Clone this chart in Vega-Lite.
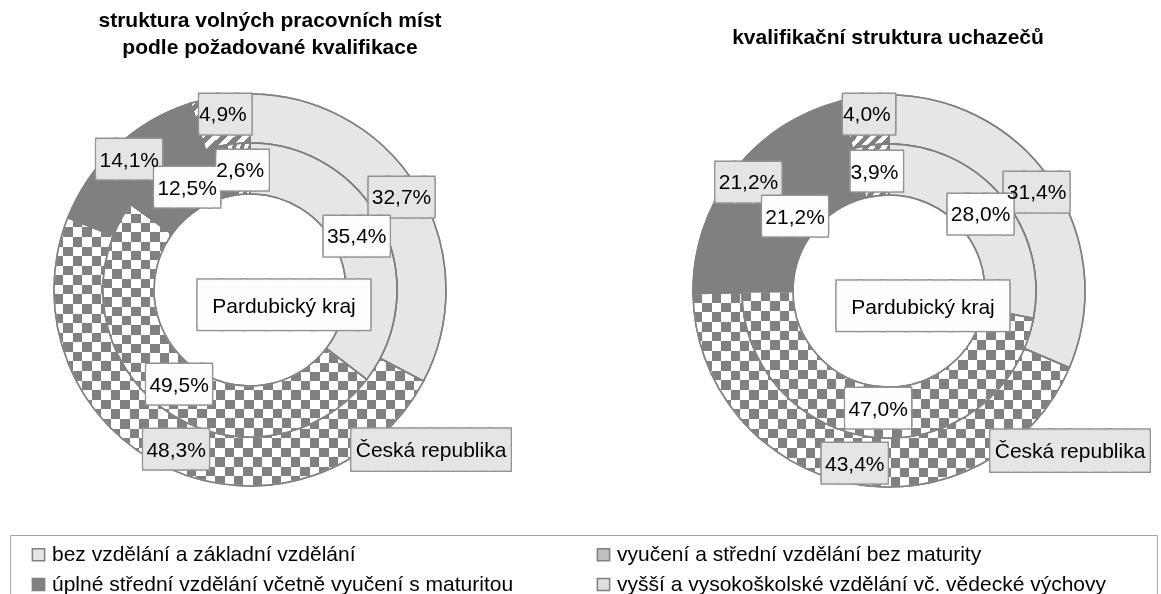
{
  "$schema": "https://vega.github.io/schema/vega-lite/v6.json",
  "width": 1161,
  "height": 594,
  "padding": 0,
  "autosize": {"type": "none"},
  "background": "white",
  "config": {
    "view": {"stroke": null},
    "locale": {"number": {"decimal": ",", "thousands": " ", "grouping": [3], "currency": ["", "%"]}}
  },
  "datasets": {
    "slices": [
      {"chart": "volná místa", "ring": "Česká republika", "cat": "bez vzdělání a základní vzdělání", "n": 1, "value": 32.7},
      {"chart": "volná místa", "ring": "Česká republika", "cat": "vyučení a střední vzdělání bez maturity", "n": 2, "value": 48.3},
      {"chart": "volná místa", "ring": "Česká republika", "cat": "úplné střední vzdělání včetně vyučení s maturitou", "n": 3, "value": 14.1},
      {"chart": "volná místa", "ring": "Česká republika", "cat": "vyšší a vysokoškolské vzdělání vč. vědecké výchovy", "n": 4, "value": 4.9},
      {"chart": "volná místa", "ring": "Pardubický kraj", "cat": "bez vzdělání a základní vzdělání", "n": 1, "value": 35.4},
      {"chart": "volná místa", "ring": "Pardubický kraj", "cat": "vyučení a střední vzdělání bez maturity", "n": 2, "value": 49.5},
      {"chart": "volná místa", "ring": "Pardubický kraj", "cat": "úplné střední vzdělání včetně vyučení s maturitou", "n": 3, "value": 12.5},
      {"chart": "volná místa", "ring": "Pardubický kraj", "cat": "vyšší a vysokoškolské vzdělání vč. vědecké výchovy", "n": 4, "value": 2.6},
      {"chart": "uchazeči", "ring": "Česká republika", "cat": "bez vzdělání a základní vzdělání", "n": 1, "value": 31.4},
      {"chart": "uchazeči", "ring": "Česká republika", "cat": "vyučení a střední vzdělání bez maturity", "n": 2, "value": 43.4},
      {"chart": "uchazeči", "ring": "Česká republika", "cat": "úplné střední vzdělání včetně vyučení s maturitou", "n": 3, "value": 21.2},
      {"chart": "uchazeči", "ring": "Česká republika", "cat": "vyšší a vysokoškolské vzdělání vč. vědecké výchovy", "n": 4, "value": 4.0},
      {"chart": "uchazeči", "ring": "Pardubický kraj", "cat": "bez vzdělání a základní vzdělání", "n": 1, "value": 28.0},
      {"chart": "uchazeči", "ring": "Pardubický kraj", "cat": "vyučení a střední vzdělání bez maturity", "n": 2, "value": 47.0},
      {"chart": "uchazeči", "ring": "Pardubický kraj", "cat": "úplné střední vzdělání včetně vyučení s maturitou", "n": 3, "value": 21.2},
      {"chart": "uchazeči", "ring": "Pardubický kraj", "cat": "vyšší a vysokoškolské vzdělání vč. vědecké výchovy", "n": 4, "value": 3.9}
    ],
    "charts": [
      {"chart": "volná místa", "title": "struktura volných pracovních míst\npodle požadované kvalifikace"},
      {"chart": "uchazeči", "title": "kvalifikační struktura uchazečů"}
    ]
  },
  "resolve": {"scale": {"x": "independent", "y": "independent", "theta": "independent"}},
  "layer": [
    {
      "data": {"name": "slices"},
      "transform": [{"filter": "datum.chart === 'volná místa' && datum.ring === 'Česká republika'"}],
      "mark": {"type": "arc", "radius": 196, "radius2": 147, "stroke": "#808080", "strokeWidth": 1.5},
      "encoding": {
        "x": {"field": "chart", "type": "nominal", "scale": {"type": "point", "domain": ["volná místa", "uchazeči"], "range": [250, 889], "padding": 0}, "axis": null},
        "y": {"field": "chart", "type": "nominal", "scale": {"type": "point", "domain": ["volná místa", "uchazeči"], "range": [290, 291], "padding": 0}, "axis": null},
        "theta": {"field": "value", "type": "quantitative", "stack": true},
        "order": {"field": "n"},
        "fill": {
          "field": "cat", "type": "nominal",
          "scale": {"domain": ["bez vzdělání a základní vzdělání", "úplné střední vzdělání včetně vyučení s maturitou", "vyučení a střední vzdělání bez maturity", "vyšší a vysokoškolské vzdělání vč. vědecké výchovy"], "range": ["#e6e6e6", "#808080", "#bfbfbf", "#dedede"]},
          "legend": {"title": "\u00a0", "titleOrient": "right", "titlePadding": 42, "titleFontSize": 21, "orient": "none", "legendX": 10, "legendY": 535, "columns": 2, "direction": "vertical", "symbolType": "square", "symbolSize": 150, "symbolStrokeColor": "#808080", "symbolStrokeWidth": 1.5, "labelFont": "Liberation Sans", "labelFontSize": 21, "labelColor": "#000000", "labelLimit": 800, "labelOffset": 3, "strokeColor": "#a6a6a6", "padding": 9, "symbolOffset": 9, "columnPadding": 70, "rowPadding": 8},
          "condition": [
            {"test": "datum.n === 2", "value": {"gradient": "linear", "x1": 0, "y1": 0, "x2": 1, "y2": 0, "stops": [{"offset":0,"color":"#000"},{"offset":0.02564,"color":"#000"},{"offset":0.02564,"color":"#fff"},{"offset":0.05128,"color":"#fff"},{"offset":0.05128,"color":"#000"},{"offset":0.07692,"color":"#000"},{"offset":0.07692,"color":"#fff"},{"offset":0.10256,"color":"#fff"},{"offset":0.10256,"color":"#000"},{"offset":0.12821,"color":"#000"},{"offset":0.12821,"color":"#fff"},{"offset":0.15385,"color":"#fff"},{"offset":0.15385,"color":"#000"},{"offset":0.17949,"color":"#000"},{"offset":0.17949,"color":"#fff"},{"offset":0.20513,"color":"#fff"},{"offset":0.20513,"color":"#000"},{"offset":0.23077,"color":"#000"},{"offset":0.23077,"color":"#fff"},{"offset":0.25641,"color":"#fff"},{"offset":0.25641,"color":"#000"},{"offset":0.28205,"color":"#000"},{"offset":0.28205,"color":"#fff"},{"offset":0.30769,"color":"#fff"},{"offset":0.30769,"color":"#000"},{"offset":0.33333,"color":"#000"},{"offset":0.33333,"color":"#fff"},{"offset":0.35897,"color":"#fff"},{"offset":0.35897,"color":"#000"},{"offset":0.38462,"color":"#000"},{"offset":0.38462,"color":"#fff"},{"offset":0.41026,"color":"#fff"},{"offset":0.41026,"color":"#000"},{"offset":0.4359,"color":"#000"},{"offset":0.4359,"color":"#fff"},{"offset":0.46154,"color":"#fff"},{"offset":0.46154,"color":"#000"},{"offset":0.48718,"color":"#000"},{"offset":0.48718,"color":"#fff"},{"offset":0.51282,"color":"#fff"},{"offset":0.51282,"color":"#000"},{"offset":0.53846,"color":"#000"},{"offset":0.53846,"color":"#fff"},{"offset":0.5641,"color":"#fff"},{"offset":0.5641,"color":"#000"},{"offset":0.58974,"color":"#000"},{"offset":0.58974,"color":"#fff"},{"offset":0.61538,"color":"#fff"},{"offset":0.61538,"color":"#000"},{"offset":0.64103,"color":"#000"},{"offset":0.64103,"color":"#fff"},{"offset":0.66667,"color":"#fff"},{"offset":0.66667,"color":"#000"},{"offset":0.69231,"color":"#000"},{"offset":0.69231,"color":"#fff"},{"offset":0.71795,"color":"#fff"},{"offset":0.71795,"color":"#000"},{"offset":0.74359,"color":"#000"},{"offset":0.74359,"color":"#fff"},{"offset":0.76923,"color":"#fff"},{"offset":0.76923,"color":"#000"},{"offset":0.79487,"color":"#000"},{"offset":0.79487,"color":"#fff"},{"offset":0.82051,"color":"#fff"},{"offset":0.82051,"color":"#000"},{"offset":0.84615,"color":"#000"},{"offset":0.84615,"color":"#fff"},{"offset":0.87179,"color":"#fff"},{"offset":0.87179,"color":"#000"},{"offset":0.89744,"color":"#000"},{"offset":0.89744,"color":"#fff"},{"offset":0.92308,"color":"#fff"},{"offset":0.92308,"color":"#000"},{"offset":0.94872,"color":"#000"},{"offset":0.94872,"color":"#fff"},{"offset":0.97436,"color":"#fff"},{"offset":0.97436,"color":"#000"},{"offset":1,"color":"#000"}]}},
            {"test": "datum.n === 4", "value": {"gradient": "linear", "x1": 0, "y1": 0, "x2": 1, "y2": 1, "stops": [{"offset":0,"color":"#808080"},{"offset":0.0625,"color":"#808080"},{"offset":0.0625,"color":"#fff"},{"offset":0.125,"color":"#fff"},{"offset":0.125,"color":"#808080"},{"offset":0.1875,"color":"#808080"},{"offset":0.1875,"color":"#fff"},{"offset":0.25,"color":"#fff"},{"offset":0.25,"color":"#808080"},{"offset":0.3125,"color":"#808080"},{"offset":0.3125,"color":"#fff"},{"offset":0.375,"color":"#fff"},{"offset":0.375,"color":"#808080"},{"offset":0.4375,"color":"#808080"},{"offset":0.4375,"color":"#fff"},{"offset":0.5,"color":"#fff"},{"offset":0.5,"color":"#808080"},{"offset":0.5625,"color":"#808080"},{"offset":0.5625,"color":"#fff"},{"offset":0.625,"color":"#fff"},{"offset":0.625,"color":"#808080"},{"offset":0.6875,"color":"#808080"},{"offset":0.6875,"color":"#fff"},{"offset":0.75,"color":"#fff"},{"offset":0.75,"color":"#808080"},{"offset":0.8125,"color":"#808080"},{"offset":0.8125,"color":"#fff"},{"offset":0.875,"color":"#fff"},{"offset":0.875,"color":"#808080"},{"offset":0.9375,"color":"#808080"},{"offset":0.9375,"color":"#fff"},{"offset":1,"color":"#fff"}]}}
          ]
        }
      }
    },
    {
      "data": {"name": "slices"},
      "transform": [{"filter": "datum.chart === 'volná místa' && datum.ring === 'Česká republika'"}],
      "mark": {"type": "arc", "radius": 196, "radius2": 147, "blend": "difference"},
      "encoding": {
        "x": {"field": "chart", "type": "nominal", "scale": {"type": "point", "domain": ["volná místa", "uchazeči"], "range": [250, 889], "padding": 0}, "axis": null},
        "y": {"field": "chart", "type": "nominal", "scale": {"type": "point", "domain": ["volná místa", "uchazeči"], "range": [290, 291], "padding": 0}, "axis": null},
        "theta": {"field": "value", "type": "quantitative", "stack": true},
        "order": {"field": "n"},
        "fill": {"condition": {"test": "datum.n === 2", "value": {"gradient": "linear", "x1": 0, "y1": 0, "x2": 0, "y2": 1, "stops": [{"offset":0,"color":"#000"},{"offset":0.03571,"color":"#000"},{"offset":0.03571,"color":"#fff"},{"offset":0.07143,"color":"#fff"},{"offset":0.07143,"color":"#000"},{"offset":0.10714,"color":"#000"},{"offset":0.10714,"color":"#fff"},{"offset":0.14286,"color":"#fff"},{"offset":0.14286,"color":"#000"},{"offset":0.17857,"color":"#000"},{"offset":0.17857,"color":"#fff"},{"offset":0.21429,"color":"#fff"},{"offset":0.21429,"color":"#000"},{"offset":0.25,"color":"#000"},{"offset":0.25,"color":"#fff"},{"offset":0.28571,"color":"#fff"},{"offset":0.28571,"color":"#000"},{"offset":0.32143,"color":"#000"},{"offset":0.32143,"color":"#fff"},{"offset":0.35714,"color":"#fff"},{"offset":0.35714,"color":"#000"},{"offset":0.39286,"color":"#000"},{"offset":0.39286,"color":"#fff"},{"offset":0.42857,"color":"#fff"},{"offset":0.42857,"color":"#000"},{"offset":0.46429,"color":"#000"},{"offset":0.46429,"color":"#fff"},{"offset":0.5,"color":"#fff"},{"offset":0.5,"color":"#000"},{"offset":0.53571,"color":"#000"},{"offset":0.53571,"color":"#fff"},{"offset":0.57143,"color":"#fff"},{"offset":0.57143,"color":"#000"},{"offset":0.60714,"color":"#000"},{"offset":0.60714,"color":"#fff"},{"offset":0.64286,"color":"#fff"},{"offset":0.64286,"color":"#000"},{"offset":0.67857,"color":"#000"},{"offset":0.67857,"color":"#fff"},{"offset":0.71429,"color":"#fff"},{"offset":0.71429,"color":"#000"},{"offset":0.75,"color":"#000"},{"offset":0.75,"color":"#fff"},{"offset":0.78571,"color":"#fff"},{"offset":0.78571,"color":"#000"},{"offset":0.82143,"color":"#000"},{"offset":0.82143,"color":"#fff"},{"offset":0.85714,"color":"#fff"},{"offset":0.85714,"color":"#000"},{"offset":0.89286,"color":"#000"},{"offset":0.89286,"color":"#fff"},{"offset":0.92857,"color":"#fff"},{"offset":0.92857,"color":"#000"},{"offset":0.96429,"color":"#000"},{"offset":0.96429,"color":"#fff"},{"offset":1,"color":"#fff"}]}}, "value": "transparent"}
      }
    },
    {
      "data": {"name": "slices"},
      "transform": [{"filter": "datum.chart === 'volná místa' && datum.ring === 'Česká republika'"}],
      "mark": {"type": "arc", "radius": 196, "radius2": 147, "blend": "screen"},
      "encoding": {
        "x": {"field": "chart", "type": "nominal", "scale": {"type": "point", "domain": ["volná místa", "uchazeči"], "range": [250, 889], "padding": 0}, "axis": null},
        "y": {"field": "chart", "type": "nominal", "scale": {"type": "point", "domain": ["volná místa", "uchazeči"], "range": [290, 291], "padding": 0}, "axis": null},
        "theta": {"field": "value", "type": "quantitative", "stack": true},
        "order": {"field": "n"},
        "fill": {"condition": {"test": "datum.n === 2", "value": "#808080"}, "value": "transparent"}
      }
    },
    {
      "data": {"name": "slices"},
      "transform": [{"filter": "datum.chart === 'volná místa' && datum.ring === 'Česká republika'"}],
      "mark": {"type": "arc", "radius": 196, "radius2": 147, "fill": "transparent", "stroke": "#808080", "strokeWidth": 1.5},
      "encoding": {
        "x": {"field": "chart", "type": "nominal", "scale": {"type": "point", "domain": ["volná místa", "uchazeči"], "range": [250, 889], "padding": 0}, "axis": null},
        "y": {"field": "chart", "type": "nominal", "scale": {"type": "point", "domain": ["volná místa", "uchazeči"], "range": [290, 291], "padding": 0}, "axis": null},
        "theta": {"field": "value", "type": "quantitative", "stack": true},
        "order": {"field": "n"}
      }
    },
    {
      "data": {"name": "slices"},
      "transform": [{"filter": "datum.chart === 'volná místa' && datum.ring === 'Pardubický kraj'"}],
      "mark": {"type": "arc", "radius": 147, "radius2": 96, "stroke": "#808080", "strokeWidth": 1.5},
      "encoding": {
        "x": {"field": "chart", "type": "nominal", "scale": {"type": "point", "domain": ["volná místa", "uchazeči"], "range": [250, 889], "padding": 0}, "axis": null},
        "y": {"field": "chart", "type": "nominal", "scale": {"type": "point", "domain": ["volná místa", "uchazeči"], "range": [290, 291], "padding": 0}, "axis": null},
        "theta": {"field": "value", "type": "quantitative", "stack": true},
        "order": {"field": "n"},
        "fill": {
          "field": "cat", "type": "nominal",
          "scale": {"domain": ["bez vzdělání a základní vzdělání", "úplné střední vzdělání včetně vyučení s maturitou", "vyučení a střední vzdělání bez maturity", "vyšší a vysokoškolské vzdělání vč. vědecké výchovy"], "range": ["#e6e6e6", "#808080", "#bfbfbf", "#dedede"]},
          "condition": [
            {"test": "datum.n === 2", "value": {"gradient": "linear", "x1": 0, "y1": 0, "x2": 1, "y2": 0, "stops": [{"offset":0,"color":"#000"},{"offset":0.03571,"color":"#000"},{"offset":0.03571,"color":"#fff"},{"offset":0.07143,"color":"#fff"},{"offset":0.07143,"color":"#000"},{"offset":0.10714,"color":"#000"},{"offset":0.10714,"color":"#fff"},{"offset":0.14286,"color":"#fff"},{"offset":0.14286,"color":"#000"},{"offset":0.17857,"color":"#000"},{"offset":0.17857,"color":"#fff"},{"offset":0.21429,"color":"#fff"},{"offset":0.21429,"color":"#000"},{"offset":0.25,"color":"#000"},{"offset":0.25,"color":"#fff"},{"offset":0.28571,"color":"#fff"},{"offset":0.28571,"color":"#000"},{"offset":0.32143,"color":"#000"},{"offset":0.32143,"color":"#fff"},{"offset":0.35714,"color":"#fff"},{"offset":0.35714,"color":"#000"},{"offset":0.39286,"color":"#000"},{"offset":0.39286,"color":"#fff"},{"offset":0.42857,"color":"#fff"},{"offset":0.42857,"color":"#000"},{"offset":0.46429,"color":"#000"},{"offset":0.46429,"color":"#fff"},{"offset":0.5,"color":"#fff"},{"offset":0.5,"color":"#000"},{"offset":0.53571,"color":"#000"},{"offset":0.53571,"color":"#fff"},{"offset":0.57143,"color":"#fff"},{"offset":0.57143,"color":"#000"},{"offset":0.60714,"color":"#000"},{"offset":0.60714,"color":"#fff"},{"offset":0.64286,"color":"#fff"},{"offset":0.64286,"color":"#000"},{"offset":0.67857,"color":"#000"},{"offset":0.67857,"color":"#fff"},{"offset":0.71429,"color":"#fff"},{"offset":0.71429,"color":"#000"},{"offset":0.75,"color":"#000"},{"offset":0.75,"color":"#fff"},{"offset":0.78571,"color":"#fff"},{"offset":0.78571,"color":"#000"},{"offset":0.82143,"color":"#000"},{"offset":0.82143,"color":"#fff"},{"offset":0.85714,"color":"#fff"},{"offset":0.85714,"color":"#000"},{"offset":0.89286,"color":"#000"},{"offset":0.89286,"color":"#fff"},{"offset":0.92857,"color":"#fff"},{"offset":0.92857,"color":"#000"},{"offset":0.96429,"color":"#000"},{"offset":0.96429,"color":"#fff"},{"offset":1,"color":"#fff"}]}},
            {"test": "datum.n === 4", "value": {"gradient": "linear", "x1": 0, "y1": 0, "x2": 1, "y2": 1, "stops": [{"offset":0,"color":"#808080"},{"offset":0.0833,"color":"#808080"},{"offset":0.0833,"color":"#fff"},{"offset":0.1667,"color":"#fff"},{"offset":0.1667,"color":"#808080"},{"offset":0.25,"color":"#808080"},{"offset":0.25,"color":"#fff"},{"offset":0.3333,"color":"#fff"},{"offset":0.3333,"color":"#808080"},{"offset":0.4167,"color":"#808080"},{"offset":0.4167,"color":"#fff"},{"offset":0.5,"color":"#fff"},{"offset":0.5,"color":"#808080"},{"offset":0.5833,"color":"#808080"},{"offset":0.5833,"color":"#fff"},{"offset":0.6667,"color":"#fff"},{"offset":0.6667,"color":"#808080"},{"offset":0.75,"color":"#808080"},{"offset":0.75,"color":"#fff"},{"offset":0.8333,"color":"#fff"},{"offset":0.8333,"color":"#808080"},{"offset":0.9167,"color":"#808080"},{"offset":0.9167,"color":"#fff"},{"offset":1,"color":"#fff"}]}}
          ]
        }
      }
    },
    {
      "data": {"name": "slices"},
      "transform": [{"filter": "datum.chart === 'volná místa' && datum.ring === 'Pardubický kraj'"}],
      "mark": {"type": "arc", "radius": 147, "radius2": 96, "blend": "difference"},
      "encoding": {
        "x": {"field": "chart", "type": "nominal", "scale": {"type": "point", "domain": ["volná místa", "uchazeči"], "range": [250, 889], "padding": 0}, "axis": null},
        "y": {"field": "chart", "type": "nominal", "scale": {"type": "point", "domain": ["volná místa", "uchazeči"], "range": [290, 291], "padding": 0}, "axis": null},
        "theta": {"field": "value", "type": "quantitative", "stack": true},
        "order": {"field": "n"},
        "fill": {"condition": {"test": "datum.n === 2", "value": {"gradient": "linear", "x1": 0, "y1": 0, "x2": 0, "y2": 1, "stops": [{"offset":0,"color":"#000"},{"offset":0.04,"color":"#000"},{"offset":0.04,"color":"#fff"},{"offset":0.08,"color":"#fff"},{"offset":0.08,"color":"#000"},{"offset":0.12,"color":"#000"},{"offset":0.12,"color":"#fff"},{"offset":0.16,"color":"#fff"},{"offset":0.16,"color":"#000"},{"offset":0.2,"color":"#000"},{"offset":0.2,"color":"#fff"},{"offset":0.24,"color":"#fff"},{"offset":0.24,"color":"#000"},{"offset":0.28,"color":"#000"},{"offset":0.28,"color":"#fff"},{"offset":0.32,"color":"#fff"},{"offset":0.32,"color":"#000"},{"offset":0.36,"color":"#000"},{"offset":0.36,"color":"#fff"},{"offset":0.4,"color":"#fff"},{"offset":0.4,"color":"#000"},{"offset":0.44,"color":"#000"},{"offset":0.44,"color":"#fff"},{"offset":0.48,"color":"#fff"},{"offset":0.48,"color":"#000"},{"offset":0.52,"color":"#000"},{"offset":0.52,"color":"#fff"},{"offset":0.56,"color":"#fff"},{"offset":0.56,"color":"#000"},{"offset":0.6,"color":"#000"},{"offset":0.6,"color":"#fff"},{"offset":0.64,"color":"#fff"},{"offset":0.64,"color":"#000"},{"offset":0.68,"color":"#000"},{"offset":0.68,"color":"#fff"},{"offset":0.72,"color":"#fff"},{"offset":0.72,"color":"#000"},{"offset":0.76,"color":"#000"},{"offset":0.76,"color":"#fff"},{"offset":0.8,"color":"#fff"},{"offset":0.8,"color":"#000"},{"offset":0.84,"color":"#000"},{"offset":0.84,"color":"#fff"},{"offset":0.88,"color":"#fff"},{"offset":0.88,"color":"#000"},{"offset":0.92,"color":"#000"},{"offset":0.92,"color":"#fff"},{"offset":0.96,"color":"#fff"},{"offset":0.96,"color":"#000"},{"offset":1,"color":"#000"}]}}, "value": "transparent"}
      }
    },
    {
      "data": {"name": "slices"},
      "transform": [{"filter": "datum.chart === 'volná místa' && datum.ring === 'Pardubický kraj'"}],
      "mark": {"type": "arc", "radius": 147, "radius2": 96, "blend": "screen"},
      "encoding": {
        "x": {"field": "chart", "type": "nominal", "scale": {"type": "point", "domain": ["volná místa", "uchazeči"], "range": [250, 889], "padding": 0}, "axis": null},
        "y": {"field": "chart", "type": "nominal", "scale": {"type": "point", "domain": ["volná místa", "uchazeči"], "range": [290, 291], "padding": 0}, "axis": null},
        "theta": {"field": "value", "type": "quantitative", "stack": true},
        "order": {"field": "n"},
        "fill": {"condition": {"test": "datum.n === 2", "value": "#808080"}, "value": "transparent"}
      }
    },
    {
      "data": {"name": "slices"},
      "transform": [{"filter": "datum.chart === 'volná místa' && datum.ring === 'Pardubický kraj'"}],
      "mark": {"type": "arc", "radius": 147, "radius2": 96, "fill": "transparent", "stroke": "#808080", "strokeWidth": 1.5},
      "encoding": {
        "x": {"field": "chart", "type": "nominal", "scale": {"type": "point", "domain": ["volná místa", "uchazeči"], "range": [250, 889], "padding": 0}, "axis": null},
        "y": {"field": "chart", "type": "nominal", "scale": {"type": "point", "domain": ["volná místa", "uchazeči"], "range": [290, 291], "padding": 0}, "axis": null},
        "theta": {"field": "value", "type": "quantitative", "stack": true},
        "order": {"field": "n"}
      }
    },
    {
      "data": {"name": "slices"},
      "transform": [{"filter": "datum.chart === 'uchazeči' && datum.ring === 'Česká republika'"}],
      "mark": {"type": "arc", "radius": 196, "radius2": 147, "stroke": "#808080", "strokeWidth": 1.5},
      "encoding": {
        "x": {"field": "chart", "type": "nominal", "scale": {"type": "point", "domain": ["volná místa", "uchazeči"], "range": [250, 889], "padding": 0}, "axis": null},
        "y": {"field": "chart", "type": "nominal", "scale": {"type": "point", "domain": ["volná místa", "uchazeči"], "range": [290, 291], "padding": 0}, "axis": null},
        "theta": {"field": "value", "type": "quantitative", "stack": true},
        "order": {"field": "n"},
        "fill": {
          "field": "cat", "type": "nominal",
          "scale": {"domain": ["bez vzdělání a základní vzdělání", "úplné střední vzdělání včetně vyučení s maturitou", "vyučení a střední vzdělání bez maturity", "vyšší a vysokoškolské vzdělání vč. vědecké výchovy"], "range": ["#e6e6e6", "#808080", "#bfbfbf", "#dedede"]},
          "condition": [
            {"test": "datum.n === 2", "value": {"gradient": "linear", "x1": 0, "y1": 0, "x2": 1, "y2": 0, "stops": [{"offset":0,"color":"#000"},{"offset":0.025,"color":"#000"},{"offset":0.025,"color":"#fff"},{"offset":0.05,"color":"#fff"},{"offset":0.05,"color":"#000"},{"offset":0.075,"color":"#000"},{"offset":0.075,"color":"#fff"},{"offset":0.1,"color":"#fff"},{"offset":0.1,"color":"#000"},{"offset":0.125,"color":"#000"},{"offset":0.125,"color":"#fff"},{"offset":0.15,"color":"#fff"},{"offset":0.15,"color":"#000"},{"offset":0.175,"color":"#000"},{"offset":0.175,"color":"#fff"},{"offset":0.2,"color":"#fff"},{"offset":0.2,"color":"#000"},{"offset":0.225,"color":"#000"},{"offset":0.225,"color":"#fff"},{"offset":0.25,"color":"#fff"},{"offset":0.25,"color":"#000"},{"offset":0.275,"color":"#000"},{"offset":0.275,"color":"#fff"},{"offset":0.3,"color":"#fff"},{"offset":0.3,"color":"#000"},{"offset":0.325,"color":"#000"},{"offset":0.325,"color":"#fff"},{"offset":0.35,"color":"#fff"},{"offset":0.35,"color":"#000"},{"offset":0.375,"color":"#000"},{"offset":0.375,"color":"#fff"},{"offset":0.4,"color":"#fff"},{"offset":0.4,"color":"#000"},{"offset":0.425,"color":"#000"},{"offset":0.425,"color":"#fff"},{"offset":0.45,"color":"#fff"},{"offset":0.45,"color":"#000"},{"offset":0.475,"color":"#000"},{"offset":0.475,"color":"#fff"},{"offset":0.5,"color":"#fff"},{"offset":0.5,"color":"#000"},{"offset":0.525,"color":"#000"},{"offset":0.525,"color":"#fff"},{"offset":0.55,"color":"#fff"},{"offset":0.55,"color":"#000"},{"offset":0.575,"color":"#000"},{"offset":0.575,"color":"#fff"},{"offset":0.6,"color":"#fff"},{"offset":0.6,"color":"#000"},{"offset":0.625,"color":"#000"},{"offset":0.625,"color":"#fff"},{"offset":0.65,"color":"#fff"},{"offset":0.65,"color":"#000"},{"offset":0.675,"color":"#000"},{"offset":0.675,"color":"#fff"},{"offset":0.7,"color":"#fff"},{"offset":0.7,"color":"#000"},{"offset":0.725,"color":"#000"},{"offset":0.725,"color":"#fff"},{"offset":0.75,"color":"#fff"},{"offset":0.75,"color":"#000"},{"offset":0.775,"color":"#000"},{"offset":0.775,"color":"#fff"},{"offset":0.8,"color":"#fff"},{"offset":0.8,"color":"#000"},{"offset":0.825,"color":"#000"},{"offset":0.825,"color":"#fff"},{"offset":0.85,"color":"#fff"},{"offset":0.85,"color":"#000"},{"offset":0.875,"color":"#000"},{"offset":0.875,"color":"#fff"},{"offset":0.9,"color":"#fff"},{"offset":0.9,"color":"#000"},{"offset":0.925,"color":"#000"},{"offset":0.925,"color":"#fff"},{"offset":0.95,"color":"#fff"},{"offset":0.95,"color":"#000"},{"offset":0.975,"color":"#000"},{"offset":0.975,"color":"#fff"},{"offset":1,"color":"#fff"}]}},
            {"test": "datum.n === 4", "value": {"gradient": "linear", "x1": 0, "y1": 0, "x2": 1, "y2": 1, "stops": [{"offset":0,"color":"#808080"},{"offset":0.0625,"color":"#808080"},{"offset":0.0625,"color":"#fff"},{"offset":0.125,"color":"#fff"},{"offset":0.125,"color":"#808080"},{"offset":0.1875,"color":"#808080"},{"offset":0.1875,"color":"#fff"},{"offset":0.25,"color":"#fff"},{"offset":0.25,"color":"#808080"},{"offset":0.3125,"color":"#808080"},{"offset":0.3125,"color":"#fff"},{"offset":0.375,"color":"#fff"},{"offset":0.375,"color":"#808080"},{"offset":0.4375,"color":"#808080"},{"offset":0.4375,"color":"#fff"},{"offset":0.5,"color":"#fff"},{"offset":0.5,"color":"#808080"},{"offset":0.5625,"color":"#808080"},{"offset":0.5625,"color":"#fff"},{"offset":0.625,"color":"#fff"},{"offset":0.625,"color":"#808080"},{"offset":0.6875,"color":"#808080"},{"offset":0.6875,"color":"#fff"},{"offset":0.75,"color":"#fff"},{"offset":0.75,"color":"#808080"},{"offset":0.8125,"color":"#808080"},{"offset":0.8125,"color":"#fff"},{"offset":0.875,"color":"#fff"},{"offset":0.875,"color":"#808080"},{"offset":0.9375,"color":"#808080"},{"offset":0.9375,"color":"#fff"},{"offset":1,"color":"#fff"}]}}
          ]
        }
      }
    },
    {
      "data": {"name": "slices"},
      "transform": [{"filter": "datum.chart === 'uchazeči' && datum.ring === 'Česká republika'"}],
      "mark": {"type": "arc", "radius": 196, "radius2": 147, "blend": "difference"},
      "encoding": {
        "x": {"field": "chart", "type": "nominal", "scale": {"type": "point", "domain": ["volná místa", "uchazeči"], "range": [250, 889], "padding": 0}, "axis": null},
        "y": {"field": "chart", "type": "nominal", "scale": {"type": "point", "domain": ["volná místa", "uchazeči"], "range": [290, 291], "padding": 0}, "axis": null},
        "theta": {"field": "value", "type": "quantitative", "stack": true},
        "order": {"field": "n"},
        "fill": {"condition": {"test": "datum.n === 2", "value": {"gradient": "linear", "x1": 0, "y1": 0, "x2": 0, "y2": 1, "stops": [{"offset":0,"color":"#000"},{"offset":0.05,"color":"#000"},{"offset":0.05,"color":"#fff"},{"offset":0.1,"color":"#fff"},{"offset":0.1,"color":"#000"},{"offset":0.15,"color":"#000"},{"offset":0.15,"color":"#fff"},{"offset":0.2,"color":"#fff"},{"offset":0.2,"color":"#000"},{"offset":0.25,"color":"#000"},{"offset":0.25,"color":"#fff"},{"offset":0.3,"color":"#fff"},{"offset":0.3,"color":"#000"},{"offset":0.35,"color":"#000"},{"offset":0.35,"color":"#fff"},{"offset":0.4,"color":"#fff"},{"offset":0.4,"color":"#000"},{"offset":0.45,"color":"#000"},{"offset":0.45,"color":"#fff"},{"offset":0.5,"color":"#fff"},{"offset":0.5,"color":"#000"},{"offset":0.55,"color":"#000"},{"offset":0.55,"color":"#fff"},{"offset":0.6,"color":"#fff"},{"offset":0.6,"color":"#000"},{"offset":0.65,"color":"#000"},{"offset":0.65,"color":"#fff"},{"offset":0.7,"color":"#fff"},{"offset":0.7,"color":"#000"},{"offset":0.75,"color":"#000"},{"offset":0.75,"color":"#fff"},{"offset":0.8,"color":"#fff"},{"offset":0.8,"color":"#000"},{"offset":0.85,"color":"#000"},{"offset":0.85,"color":"#fff"},{"offset":0.9,"color":"#fff"},{"offset":0.9,"color":"#000"},{"offset":0.95,"color":"#000"},{"offset":0.95,"color":"#fff"},{"offset":1,"color":"#fff"}]}}, "value": "transparent"}
      }
    },
    {
      "data": {"name": "slices"},
      "transform": [{"filter": "datum.chart === 'uchazeči' && datum.ring === 'Česká republika'"}],
      "mark": {"type": "arc", "radius": 196, "radius2": 147, "blend": "screen"},
      "encoding": {
        "x": {"field": "chart", "type": "nominal", "scale": {"type": "point", "domain": ["volná místa", "uchazeči"], "range": [250, 889], "padding": 0}, "axis": null},
        "y": {"field": "chart", "type": "nominal", "scale": {"type": "point", "domain": ["volná místa", "uchazeči"], "range": [290, 291], "padding": 0}, "axis": null},
        "theta": {"field": "value", "type": "quantitative", "stack": true},
        "order": {"field": "n"},
        "fill": {"condition": {"test": "datum.n === 2", "value": "#808080"}, "value": "transparent"}
      }
    },
    {
      "data": {"name": "slices"},
      "transform": [{"filter": "datum.chart === 'uchazeči' && datum.ring === 'Česká republika'"}],
      "mark": {"type": "arc", "radius": 196, "radius2": 147, "fill": "transparent", "stroke": "#808080", "strokeWidth": 1.5},
      "encoding": {
        "x": {"field": "chart", "type": "nominal", "scale": {"type": "point", "domain": ["volná místa", "uchazeči"], "range": [250, 889], "padding": 0}, "axis": null},
        "y": {"field": "chart", "type": "nominal", "scale": {"type": "point", "domain": ["volná místa", "uchazeči"], "range": [290, 291], "padding": 0}, "axis": null},
        "theta": {"field": "value", "type": "quantitative", "stack": true},
        "order": {"field": "n"}
      }
    },
    {
      "data": {"name": "slices"},
      "transform": [{"filter": "datum.chart === 'uchazeči' && datum.ring === 'Pardubický kraj'"}],
      "mark": {"type": "arc", "radius": 147, "radius2": 96, "stroke": "#808080", "strokeWidth": 1.5},
      "encoding": {
        "x": {"field": "chart", "type": "nominal", "scale": {"type": "point", "domain": ["volná místa", "uchazeči"], "range": [250, 889], "padding": 0}, "axis": null},
        "y": {"field": "chart", "type": "nominal", "scale": {"type": "point", "domain": ["volná místa", "uchazeči"], "range": [290, 291], "padding": 0}, "axis": null},
        "theta": {"field": "value", "type": "quantitative", "stack": true},
        "order": {"field": "n"},
        "fill": {
          "field": "cat", "type": "nominal",
          "scale": {"domain": ["bez vzdělání a základní vzdělání", "úplné střední vzdělání včetně vyučení s maturitou", "vyučení a střední vzdělání bez maturity", "vyšší a vysokoškolské vzdělání vč. vědecké výchovy"], "range": ["#e6e6e6", "#808080", "#bfbfbf", "#dedede"]},
          "condition": [
            {"test": "datum.n === 2", "value": {"gradient": "linear", "x1": 0, "y1": 0, "x2": 1, "y2": 0, "stops": [{"offset":0,"color":"#000"},{"offset":0.03226,"color":"#000"},{"offset":0.03226,"color":"#fff"},{"offset":0.06452,"color":"#fff"},{"offset":0.06452,"color":"#000"},{"offset":0.09677,"color":"#000"},{"offset":0.09677,"color":"#fff"},{"offset":0.12903,"color":"#fff"},{"offset":0.12903,"color":"#000"},{"offset":0.16129,"color":"#000"},{"offset":0.16129,"color":"#fff"},{"offset":0.19355,"color":"#fff"},{"offset":0.19355,"color":"#000"},{"offset":0.22581,"color":"#000"},{"offset":0.22581,"color":"#fff"},{"offset":0.25806,"color":"#fff"},{"offset":0.25806,"color":"#000"},{"offset":0.29032,"color":"#000"},{"offset":0.29032,"color":"#fff"},{"offset":0.32258,"color":"#fff"},{"offset":0.32258,"color":"#000"},{"offset":0.35484,"color":"#000"},{"offset":0.35484,"color":"#fff"},{"offset":0.3871,"color":"#fff"},{"offset":0.3871,"color":"#000"},{"offset":0.41935,"color":"#000"},{"offset":0.41935,"color":"#fff"},{"offset":0.45161,"color":"#fff"},{"offset":0.45161,"color":"#000"},{"offset":0.48387,"color":"#000"},{"offset":0.48387,"color":"#fff"},{"offset":0.51613,"color":"#fff"},{"offset":0.51613,"color":"#000"},{"offset":0.54839,"color":"#000"},{"offset":0.54839,"color":"#fff"},{"offset":0.58065,"color":"#fff"},{"offset":0.58065,"color":"#000"},{"offset":0.6129,"color":"#000"},{"offset":0.6129,"color":"#fff"},{"offset":0.64516,"color":"#fff"},{"offset":0.64516,"color":"#000"},{"offset":0.67742,"color":"#000"},{"offset":0.67742,"color":"#fff"},{"offset":0.70968,"color":"#fff"},{"offset":0.70968,"color":"#000"},{"offset":0.74194,"color":"#000"},{"offset":0.74194,"color":"#fff"},{"offset":0.77419,"color":"#fff"},{"offset":0.77419,"color":"#000"},{"offset":0.80645,"color":"#000"},{"offset":0.80645,"color":"#fff"},{"offset":0.83871,"color":"#fff"},{"offset":0.83871,"color":"#000"},{"offset":0.87097,"color":"#000"},{"offset":0.87097,"color":"#fff"},{"offset":0.90323,"color":"#fff"},{"offset":0.90323,"color":"#000"},{"offset":0.93548,"color":"#000"},{"offset":0.93548,"color":"#fff"},{"offset":0.96774,"color":"#fff"},{"offset":0.96774,"color":"#000"},{"offset":1,"color":"#000"}]}},
            {"test": "datum.n === 4", "value": {"gradient": "linear", "x1": 0, "y1": 0, "x2": 1, "y2": 1, "stops": [{"offset":0,"color":"#808080"},{"offset":0.0833,"color":"#808080"},{"offset":0.0833,"color":"#fff"},{"offset":0.1667,"color":"#fff"},{"offset":0.1667,"color":"#808080"},{"offset":0.25,"color":"#808080"},{"offset":0.25,"color":"#fff"},{"offset":0.3333,"color":"#fff"},{"offset":0.3333,"color":"#808080"},{"offset":0.4167,"color":"#808080"},{"offset":0.4167,"color":"#fff"},{"offset":0.5,"color":"#fff"},{"offset":0.5,"color":"#808080"},{"offset":0.5833,"color":"#808080"},{"offset":0.5833,"color":"#fff"},{"offset":0.6667,"color":"#fff"},{"offset":0.6667,"color":"#808080"},{"offset":0.75,"color":"#808080"},{"offset":0.75,"color":"#fff"},{"offset":0.8333,"color":"#fff"},{"offset":0.8333,"color":"#808080"},{"offset":0.9167,"color":"#808080"},{"offset":0.9167,"color":"#fff"},{"offset":1,"color":"#fff"}]}}
          ]
        }
      }
    },
    {
      "data": {"name": "slices"},
      "transform": [{"filter": "datum.chart === 'uchazeči' && datum.ring === 'Pardubický kraj'"}],
      "mark": {"type": "arc", "radius": 147, "radius2": 96, "blend": "difference"},
      "encoding": {
        "x": {"field": "chart", "type": "nominal", "scale": {"type": "point", "domain": ["volná místa", "uchazeči"], "range": [250, 889], "padding": 0}, "axis": null},
        "y": {"field": "chart", "type": "nominal", "scale": {"type": "point", "domain": ["volná místa", "uchazeči"], "range": [290, 291], "padding": 0}, "axis": null},
        "theta": {"field": "value", "type": "quantitative", "stack": true},
        "order": {"field": "n"},
        "fill": {"condition": {"test": "datum.n === 2", "value": {"gradient": "linear", "x1": 0, "y1": 0, "x2": 0, "y2": 1, "stops": [{"offset":0,"color":"#000"},{"offset":0.06667,"color":"#000"},{"offset":0.06667,"color":"#fff"},{"offset":0.13333,"color":"#fff"},{"offset":0.13333,"color":"#000"},{"offset":0.2,"color":"#000"},{"offset":0.2,"color":"#fff"},{"offset":0.26667,"color":"#fff"},{"offset":0.26667,"color":"#000"},{"offset":0.33333,"color":"#000"},{"offset":0.33333,"color":"#fff"},{"offset":0.4,"color":"#fff"},{"offset":0.4,"color":"#000"},{"offset":0.46667,"color":"#000"},{"offset":0.46667,"color":"#fff"},{"offset":0.53333,"color":"#fff"},{"offset":0.53333,"color":"#000"},{"offset":0.6,"color":"#000"},{"offset":0.6,"color":"#fff"},{"offset":0.66667,"color":"#fff"},{"offset":0.66667,"color":"#000"},{"offset":0.73333,"color":"#000"},{"offset":0.73333,"color":"#fff"},{"offset":0.8,"color":"#fff"},{"offset":0.8,"color":"#000"},{"offset":0.86667,"color":"#000"},{"offset":0.86667,"color":"#fff"},{"offset":0.93333,"color":"#fff"},{"offset":0.93333,"color":"#000"},{"offset":1,"color":"#000"}]}}, "value": "transparent"}
      }
    },
    {
      "data": {"name": "slices"},
      "transform": [{"filter": "datum.chart === 'uchazeči' && datum.ring === 'Pardubický kraj'"}],
      "mark": {"type": "arc", "radius": 147, "radius2": 96, "blend": "screen"},
      "encoding": {
        "x": {"field": "chart", "type": "nominal", "scale": {"type": "point", "domain": ["volná místa", "uchazeči"], "range": [250, 889], "padding": 0}, "axis": null},
        "y": {"field": "chart", "type": "nominal", "scale": {"type": "point", "domain": ["volná místa", "uchazeči"], "range": [290, 291], "padding": 0}, "axis": null},
        "theta": {"field": "value", "type": "quantitative", "stack": true},
        "order": {"field": "n"},
        "fill": {"condition": {"test": "datum.n === 2", "value": "#808080"}, "value": "transparent"}
      }
    },
    {
      "data": {"name": "slices"},
      "transform": [{"filter": "datum.chart === 'uchazeči' && datum.ring === 'Pardubický kraj'"}],
      "mark": {"type": "arc", "radius": 147, "radius2": 96, "fill": "transparent", "stroke": "#808080", "strokeWidth": 1.5},
      "encoding": {
        "x": {"field": "chart", "type": "nominal", "scale": {"type": "point", "domain": ["volná místa", "uchazeči"], "range": [250, 889], "padding": 0}, "axis": null},
        "y": {"field": "chart", "type": "nominal", "scale": {"type": "point", "domain": ["volná místa", "uchazeči"], "range": [290, 291], "padding": 0}, "axis": null},
        "theta": {"field": "value", "type": "quantitative", "stack": true},
        "order": {"field": "n"}
      }
    },
    {
      "data": {"name": "slices"},
      "transform": [{"filter": "datum.chart === 'volná místa' && datum.ring === 'Česká republika'"}],
      "mark": {"type": "text", "radius": 177, "font": "DejaVu Sans Mono", "fontSize": 30.5, "lineHeight": 3, "dx": 4.6, "dy": -1.5, "align": "center", "baseline": "middle", "fill": "#939393", "stroke": "#939393", "strokeWidth": 4, "opacity": 0.99},
      "encoding": {
        "x": {"field": "chart", "type": "nominal", "scale": {"type": "point", "domain": ["volná místa", "uchazeči"], "range": [250, 889], "padding": 0}, "axis": null},
        "y": {"field": "chart", "type": "nominal", "scale": {"type": "point", "domain": ["volná místa", "uchazeči"], "range": [290, 291], "padding": 0}, "axis": null},
        "theta": {"field": "value", "type": "quantitative", "stack": true},
        "order": {"field": "n"},
        "text": {"condition": {"test": "datum.value < 10", "value": ["██▊", "██▊"]}, "value": ["███▌", "███▌"]}
      }
    },
    {
      "data": {"name": "slices"},
      "transform": [{"filter": "datum.chart === 'volná místa' && datum.ring === 'Česká republika'"}],
      "mark": {"type": "text", "radius": 177, "font": "DejaVu Sans Mono", "fontSize": 30.5, "lineHeight": 3, "dx": 4.6, "dy": -1.5, "align": "center", "baseline": "middle", "fill": "#e6e6e6", "stroke": "#e6e6e6", "strokeWidth": 1, "opacity": 0.99},
      "encoding": {
        "x": {"field": "chart", "type": "nominal", "scale": {"type": "point", "domain": ["volná místa", "uchazeči"], "range": [250, 889], "padding": 0}, "axis": null},
        "y": {"field": "chart", "type": "nominal", "scale": {"type": "point", "domain": ["volná místa", "uchazeči"], "range": [290, 291], "padding": 0}, "axis": null},
        "theta": {"field": "value", "type": "quantitative", "stack": true},
        "order": {"field": "n"},
        "text": {"condition": {"test": "datum.value < 10", "value": ["██▊", "██▊"]}, "value": ["███▌", "███▌"]}
      }
    },
    {
      "data": {"name": "slices"},
      "transform": [{"filter": "datum.chart === 'volná místa' && datum.ring === 'Pardubický kraj'"}],
      "mark": {"type": "text", "radius": 119, "font": "DejaVu Sans Mono", "fontSize": 30.5, "lineHeight": 3, "dx": 4.6, "dy": -1.5, "align": "center", "baseline": "middle", "fill": "#939393", "stroke": "#939393", "strokeWidth": 4, "opacity": 0.99},
      "encoding": {
        "x": {"field": "chart", "type": "nominal", "scale": {"type": "point", "domain": ["volná místa", "uchazeči"], "range": [250, 889], "padding": 0}, "axis": null},
        "y": {"field": "chart", "type": "nominal", "scale": {"type": "point", "domain": ["volná místa", "uchazeči"], "range": [290, 291], "padding": 0}, "axis": null},
        "theta": {"field": "value", "type": "quantitative", "stack": true},
        "order": {"field": "n"},
        "text": {"condition": {"test": "datum.value < 10", "value": ["██▊", "██▊"]}, "value": ["███▌", "███▌"]}
      }
    },
    {
      "data": {"name": "slices"},
      "transform": [{"filter": "datum.chart === 'volná místa' && datum.ring === 'Pardubický kraj'"}],
      "mark": {"type": "text", "radius": 119, "font": "DejaVu Sans Mono", "fontSize": 30.5, "lineHeight": 3, "dx": 4.6, "dy": -1.5, "align": "center", "baseline": "middle", "fill": "#ffffff", "stroke": "#ffffff", "strokeWidth": 1, "opacity": 0.99},
      "encoding": {
        "x": {"field": "chart", "type": "nominal", "scale": {"type": "point", "domain": ["volná místa", "uchazeči"], "range": [250, 889], "padding": 0}, "axis": null},
        "y": {"field": "chart", "type": "nominal", "scale": {"type": "point", "domain": ["volná místa", "uchazeči"], "range": [290, 291], "padding": 0}, "axis": null},
        "theta": {"field": "value", "type": "quantitative", "stack": true},
        "order": {"field": "n"},
        "text": {"condition": {"test": "datum.value < 10", "value": ["██▊", "██▊"]}, "value": ["███▌", "███▌"]}
      }
    },
    {
      "data": {"name": "slices"},
      "transform": [{"filter": "datum.chart === 'uchazeči' && datum.ring === 'Česká republika'"}],
      "mark": {"type": "text", "radius": 177, "font": "DejaVu Sans Mono", "fontSize": 30.5, "lineHeight": 3, "dx": 4.6, "dy": -1.5, "align": "center", "baseline": "middle", "fill": "#939393", "stroke": "#939393", "strokeWidth": 4, "opacity": 0.99},
      "encoding": {
        "x": {"field": "chart", "type": "nominal", "scale": {"type": "point", "domain": ["volná místa", "uchazeči"], "range": [250, 889], "padding": 0}, "axis": null},
        "y": {"field": "chart", "type": "nominal", "scale": {"type": "point", "domain": ["volná místa", "uchazeči"], "range": [290, 291], "padding": 0}, "axis": null},
        "theta": {"field": "value", "type": "quantitative", "stack": true},
        "order": {"field": "n"},
        "text": {"condition": {"test": "datum.value < 10", "value": ["██▊", "██▊"]}, "value": ["███▌", "███▌"]}
      }
    },
    {
      "data": {"name": "slices"},
      "transform": [{"filter": "datum.chart === 'uchazeči' && datum.ring === 'Česká republika'"}],
      "mark": {"type": "text", "radius": 177, "font": "DejaVu Sans Mono", "fontSize": 30.5, "lineHeight": 3, "dx": 4.6, "dy": -1.5, "align": "center", "baseline": "middle", "fill": "#e6e6e6", "stroke": "#e6e6e6", "strokeWidth": 1, "opacity": 0.99},
      "encoding": {
        "x": {"field": "chart", "type": "nominal", "scale": {"type": "point", "domain": ["volná místa", "uchazeči"], "range": [250, 889], "padding": 0}, "axis": null},
        "y": {"field": "chart", "type": "nominal", "scale": {"type": "point", "domain": ["volná místa", "uchazeči"], "range": [290, 291], "padding": 0}, "axis": null},
        "theta": {"field": "value", "type": "quantitative", "stack": true},
        "order": {"field": "n"},
        "text": {"condition": {"test": "datum.value < 10", "value": ["██▊", "██▊"]}, "value": ["███▌", "███▌"]}
      }
    },
    {
      "data": {"name": "slices"},
      "transform": [{"filter": "datum.chart === 'uchazeči' && datum.ring === 'Pardubický kraj'"}],
      "mark": {"type": "text", "radius": 119, "font": "DejaVu Sans Mono", "fontSize": 30.5, "lineHeight": 3, "dx": 4.6, "dy": -1.5, "align": "center", "baseline": "middle", "fill": "#939393", "stroke": "#939393", "strokeWidth": 4, "opacity": 0.99},
      "encoding": {
        "x": {"field": "chart", "type": "nominal", "scale": {"type": "point", "domain": ["volná místa", "uchazeči"], "range": [250, 889], "padding": 0}, "axis": null},
        "y": {"field": "chart", "type": "nominal", "scale": {"type": "point", "domain": ["volná místa", "uchazeči"], "range": [290, 291], "padding": 0}, "axis": null},
        "theta": {"field": "value", "type": "quantitative", "stack": true},
        "order": {"field": "n"},
        "text": {"condition": {"test": "datum.value < 10", "value": ["██▊", "██▊"]}, "value": ["███▌", "███▌"]}
      }
    },
    {
      "data": {"name": "slices"},
      "transform": [{"filter": "datum.chart === 'uchazeči' && datum.ring === 'Pardubický kraj'"}],
      "mark": {"type": "text", "radius": 119, "font": "DejaVu Sans Mono", "fontSize": 30.5, "lineHeight": 3, "dx": 4.6, "dy": -1.5, "align": "center", "baseline": "middle", "fill": "#ffffff", "stroke": "#ffffff", "strokeWidth": 1, "opacity": 0.99},
      "encoding": {
        "x": {"field": "chart", "type": "nominal", "scale": {"type": "point", "domain": ["volná místa", "uchazeči"], "range": [250, 889], "padding": 0}, "axis": null},
        "y": {"field": "chart", "type": "nominal", "scale": {"type": "point", "domain": ["volná místa", "uchazeči"], "range": [290, 291], "padding": 0}, "axis": null},
        "theta": {"field": "value", "type": "quantitative", "stack": true},
        "order": {"field": "n"},
        "text": {"condition": {"test": "datum.value < 10", "value": ["██▊", "██▊"]}, "value": ["███▌", "███▌"]}
      }
    },
    {
      "data": {"name": "charts"},
      "mark": {"type": "text", "theta": 2.035, "radius": 38, "font": "DejaVu Sans Mono", "fontSize": 37.8, "lineHeight": 4, "dx": 5.7, "dy": -2, "align": "center", "baseline": "middle", "fill": "#939393", "stroke": "#939393", "strokeWidth": 4, "opacity": 0.99},
      "encoding": {
        "x": {"field": "chart", "type": "nominal", "scale": {"type": "point", "domain": ["volná místa", "uchazeči"], "range": [250, 889], "padding": 0}, "axis": null},
        "y": {"field": "chart", "type": "nominal", "scale": {"type": "point", "domain": ["volná místa", "uchazeči"], "range": [290, 291], "padding": 0}, "axis": null},
        "text": {"value": ["███████▌", "███████▌"]}
      }
    },
    {
      "data": {"name": "charts"},
      "mark": {"type": "text", "theta": 2.035, "radius": 38, "font": "DejaVu Sans Mono", "fontSize": 37.8, "lineHeight": 4, "dx": 5.7, "dy": -2, "align": "center", "baseline": "middle", "fill": "#ffffff", "stroke": "#ffffff", "strokeWidth": 1, "opacity": 0.99},
      "encoding": {
        "x": {"field": "chart", "type": "nominal", "scale": {"type": "point", "domain": ["volná místa", "uchazeči"], "range": [250, 889], "padding": 0}, "axis": null},
        "y": {"field": "chart", "type": "nominal", "scale": {"type": "point", "domain": ["volná místa", "uchazeči"], "range": [290, 291], "padding": 0}, "axis": null},
        "text": {"value": ["███████▌", "███████▌"]}
      }
    },
    {
      "data": {"name": "charts"},
      "mark": {"type": "text", "theta": 2.299, "radius": 242.6, "font": "DejaVu Sans Mono", "fontSize": 32.6, "lineHeight": 2, "dy": -1, "align": "center", "baseline": "middle", "fill": "#939393", "stroke": "#939393", "strokeWidth": 4, "opacity": 0.99},
      "encoding": {
        "x": {"field": "chart", "type": "nominal", "scale": {"type": "point", "domain": ["volná místa", "uchazeči"], "range": [250, 889], "padding": 0}, "axis": null},
        "y": {"field": "chart", "type": "nominal", "scale": {"type": "point", "domain": ["volná místa", "uchazeči"], "range": [290, 291], "padding": 0}, "axis": null},
        "text": {"value": ["████████", "████████"]}
      }
    },
    {
      "data": {"name": "charts"},
      "mark": {"type": "text", "theta": 2.299, "radius": 242.6, "font": "DejaVu Sans Mono", "fontSize": 32.6, "lineHeight": 2, "dy": -1, "align": "center", "baseline": "middle", "fill": "#e6e6e6", "stroke": "#e6e6e6", "strokeWidth": 1, "opacity": 0.99},
      "encoding": {
        "x": {"field": "chart", "type": "nominal", "scale": {"type": "point", "domain": ["volná místa", "uchazeči"], "range": [250, 889], "padding": 0}, "axis": null},
        "y": {"field": "chart", "type": "nominal", "scale": {"type": "point", "domain": ["volná místa", "uchazeči"], "range": [290, 291], "padding": 0}, "axis": null},
        "text": {"value": ["████████", "████████"]}
      }
    },
    {
      "data": {"name": "slices"},
      "transform": [{"filter": "datum.chart === 'volná místa' && datum.ring === 'Česká republika'"}],
      "mark": {"type": "text", "radius": 177, "font": "Liberation Sans", "fontSize": 21, "align": "center", "baseline": "middle", "fill": "#000000"},
      "encoding": {
        "x": {"field": "chart", "type": "nominal", "scale": {"type": "point", "domain": ["volná místa", "uchazeči"], "range": [250, 889], "padding": 0}, "axis": null},
        "y": {"field": "chart", "type": "nominal", "scale": {"type": "point", "domain": ["volná místa", "uchazeči"], "range": [290, 291], "padding": 0}, "axis": null},
        "theta": {"field": "value", "type": "quantitative", "stack": true},
        "order": {"field": "n"},
        "text": {"field": "value", "type": "quantitative", "format": "$.1f"}
      }
    },
    {
      "data": {"name": "slices"},
      "transform": [{"filter": "datum.chart === 'volná místa' && datum.ring === 'Pardubický kraj'"}],
      "mark": {"type": "text", "radius": 119, "font": "Liberation Sans", "fontSize": 21, "align": "center", "baseline": "middle", "fill": "#000000"},
      "encoding": {
        "x": {"field": "chart", "type": "nominal", "scale": {"type": "point", "domain": ["volná místa", "uchazeči"], "range": [250, 889], "padding": 0}, "axis": null},
        "y": {"field": "chart", "type": "nominal", "scale": {"type": "point", "domain": ["volná místa", "uchazeči"], "range": [290, 291], "padding": 0}, "axis": null},
        "theta": {"field": "value", "type": "quantitative", "stack": true},
        "order": {"field": "n"},
        "text": {"field": "value", "type": "quantitative", "format": "$.1f"}
      }
    },
    {
      "data": {"name": "slices"},
      "transform": [{"filter": "datum.chart === 'uchazeči' && datum.ring === 'Česká republika'"}],
      "mark": {"type": "text", "radius": 177, "font": "Liberation Sans", "fontSize": 21, "align": "center", "baseline": "middle", "fill": "#000000"},
      "encoding": {
        "x": {"field": "chart", "type": "nominal", "scale": {"type": "point", "domain": ["volná místa", "uchazeči"], "range": [250, 889], "padding": 0}, "axis": null},
        "y": {"field": "chart", "type": "nominal", "scale": {"type": "point", "domain": ["volná místa", "uchazeči"], "range": [290, 291], "padding": 0}, "axis": null},
        "theta": {"field": "value", "type": "quantitative", "stack": true},
        "order": {"field": "n"},
        "text": {"field": "value", "type": "quantitative", "format": "$.1f"}
      }
    },
    {
      "data": {"name": "slices"},
      "transform": [{"filter": "datum.chart === 'uchazeči' && datum.ring === 'Pardubický kraj'"}],
      "mark": {"type": "text", "radius": 119, "font": "Liberation Sans", "fontSize": 21, "align": "center", "baseline": "middle", "fill": "#000000"},
      "encoding": {
        "x": {"field": "chart", "type": "nominal", "scale": {"type": "point", "domain": ["volná místa", "uchazeči"], "range": [250, 889], "padding": 0}, "axis": null},
        "y": {"field": "chart", "type": "nominal", "scale": {"type": "point", "domain": ["volná místa", "uchazeči"], "range": [290, 291], "padding": 0}, "axis": null},
        "theta": {"field": "value", "type": "quantitative", "stack": true},
        "order": {"field": "n"},
        "text": {"field": "value", "type": "quantitative", "format": "$.1f"}
      }
    },
    {
      "data": {"name": "charts"},
      "mark": {"type": "text", "theta": 2.035, "radius": 38, "font": "Liberation Sans", "fontSize": 21, "align": "center", "baseline": "middle", "fill": "#000000"},
      "encoding": {
        "x": {"field": "chart", "type": "nominal", "scale": {"type": "point", "domain": ["volná místa", "uchazeči"], "range": [250, 889], "padding": 0}, "axis": null},
        "y": {"field": "chart", "type": "nominal", "scale": {"type": "point", "domain": ["volná místa", "uchazeči"], "range": [290, 291], "padding": 0}, "axis": null},
        "text": {"value": "Pardubický kraj"}
      }
    },
    {
      "data": {"name": "charts"},
      "mark": {"type": "text", "theta": 2.299, "radius": 242.6, "font": "Liberation Sans", "fontSize": 21, "align": "center", "baseline": "middle", "fill": "#000000"},
      "encoding": {
        "x": {"field": "chart", "type": "nominal", "scale": {"type": "point", "domain": ["volná místa", "uchazeči"], "range": [250, 889], "padding": 0}, "axis": null},
        "y": {"field": "chart", "type": "nominal", "scale": {"type": "point", "domain": ["volná místa", "uchazeči"], "range": [290, 291], "padding": 0}, "axis": null},
        "text": {"value": "Česká republika"}
      }
    },
    {
      "data": {"name": "charts"},
      "mark": {"type": "text", "font": "Liberation Sans", "fontSize": 21, "fontWeight": "bold", "lineBreak": "\n", "lineHeight": 27, "align": "center", "baseline": "middle", "fill": "#000000"},
      "encoding": {
        "x": {"field": "chart", "type": "nominal", "scale": {"type": "point", "domain": ["volná místa", "uchazeči"], "range": [270, 888], "padding": 0}, "axis": null},
        "y": {"field": "chart", "type": "nominal", "scale": {"type": "point", "domain": ["volná místa", "uchazeči"], "range": [21, 38], "padding": 0}, "axis": null},
        "text": {"field": "title"}
      }
    }
  ]
}
